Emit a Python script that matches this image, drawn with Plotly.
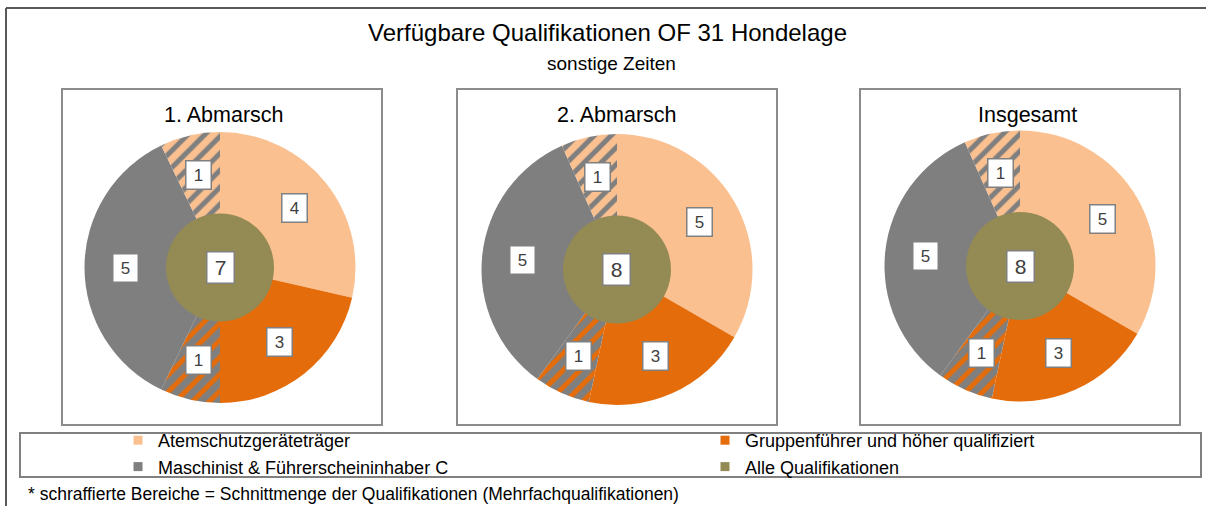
import math
import plotly.graph_objects as go

# ---------------- data ----------------
panels = ["1. Abmarsch", "2. Abmarsch", "Insgesamt"]
legend_names = ["Atemschutzgeräteträger", "Gruppenführer und höher qualifiziert",
                "Maschinist & Führerscheininhaber C", "Alle Qualifikationen"]
ring_labels = ["Atemschutzgeräteträger", "Gruppenführer und höher qualifiziert",
               "Gruppenführer + Maschinist", "Maschinist & Führerscheininhaber C",
               "Atemschutz + Maschinist"]
atemschutz = [4, 5, 5]
gruppenfuehrer = [3, 3, 3]
gruppen_maschinist = [1, 1, 1]
maschinist = [5, 5, 5]
atem_maschinist = [1, 1, 1]
alle = [7, 8, 8]

title = "Verfügbare Qualifikationen OF 31 Hondelage"
subtitle = "sonstige Zeiten"
footnote = "* schraffierte Bereiche = Schnittmenge der Qualifikationen (Mehrfachqualifikationen)"

# ---------------- style / layout ----------------
W, H = 1206, 506
C_LIGHT = "#FAC090"
C_ORANGE = "#E46C0A"
C_GRAY = "#7F7F7F"
C_OLIVE = "#948A54"
FONT = "Liberation Sans, Arial, sans-serif"

centers = [(220, 267.5), (617, 269.5), (1020, 266)]
R_OUT = 135.5
R_IN = 54
boxes = [(62, 382), (457, 777), (860, 1180)]
BOX_TOP, BOX_BOT = 89, 425
panel_title_x = [224, 617, 1027]

def dom(cx, cy, r):
    return dict(x=[(cx - r) / W, (cx + r) / W], y=[1 - (cy + r) / H, 1 - (cy - r) / H])

def ann(x, y, text, size, color="#000000", **kw):
    d = dict(x=x / W, y=1 - y / H, xref="paper", yref="paper", text=text,
             showarrow=False, xanchor="center", yanchor="middle",
             font=dict(size=size, color=color, family=FONT))
    d.update(kw)
    return d

fig = go.Figure()
annotations = []
shapes = []

for i, name in enumerate(panels):
    cx, cy = centers[i]
    vals = [atemschutz[i], gruppenfuehrer[i], gruppen_maschinist[i], maschinist[i], atem_maschinist[i]]
    fig.add_trace(go.Pie(
        labels=ring_labels, values=vals, sort=False, direction="clockwise", rotation=0,
        domain=dom(cx, cy, R_OUT), textinfo="none", textposition="none",
        hoverinfo="label+value", showlegend=False,
        marker=dict(colors=[C_LIGHT, C_ORANGE, C_GRAY, C_GRAY, C_LIGHT],
                    line=dict(width=0),
                    pattern=dict(shape=["", "", "/", "", "/"],
                                 bgcolor=[C_LIGHT, C_ORANGE, C_GRAY, C_GRAY, C_LIGHT],
                                 fgcolor=[C_LIGHT, C_ORANGE, C_ORANGE, C_GRAY, C_GRAY],
                                 fillmode="replace", size=12, solidity=0.42)),
    ))
    fig.add_trace(go.Pie(
        labels=[legend_names[3]], values=[alle[i]], sort=False,
        domain=dom(cx, cy, R_IN), textinfo="none", textposition="none",
        hoverinfo="label+value",
        showlegend=False, marker=dict(colors=[C_OLIVE], line=dict(width=0)),
    ))
    # slice value labels at mid-angle of each slice
    total = sum(vals)
    cum = 0
    r_lab = 0.5 * (R_OUT + R_IN)
    for v in vals:
        mid = (cum + v / 2) / total * 2 * math.pi
        cum += v
        x = cx + r_lab * math.sin(mid)
        y = cy - r_lab * math.cos(mid)
        annotations.append(ann(x, y, str(v), 17, "#404040",
                               bgcolor="white", bordercolor="#808080", borderwidth=1.5,
                               borderpad=3, width=18, height=21))
    annotations.append(ann(cx, cy, str(alle[i]), 21, "#404040",
                           bgcolor="white", bordercolor="#808080", borderwidth=1.5,
                           borderpad=3, width=20, height=24))
    # panel title
    annotations.append(ann(panel_title_x[i], 115, name, 21.5))
    x0, x1 = boxes[i]
    shapes.append(dict(type="rect", xref="paper", yref="paper",
                       x0=x0 / W, x1=x1 / W, y0=1 - BOX_BOT / H, y1=1 - BOX_TOP / H,
                       line=dict(color="#8C8C8C", width=2)))

# legend entries (two columns = two legends)
leg_colors = [C_LIGHT, C_ORANGE, C_GRAY, C_OLIVE]
leg_target = ["legend", "legend2", "legend", "legend2"]
for k in range(4):
    fig.add_trace(go.Scatter(x=[None], y=[None], mode="markers", name=legend_names[k],
                             legend=leg_target[k],
                             marker=dict(symbol="square", size=9, color=leg_colors[k]),
                             showlegend=True, hoverinfo="skip"))

# title / subtitle / footnote
annotations.append(ann(607, 33, title, 24))
annotations.append(ann(611, 64, subtitle, 19))
annotations.append(ann(26, 494, footnote, 17.5, xanchor="left"))

# legend box and outer frame
shapes.append(dict(type="rect", xref="paper", yref="paper",
                   x0=20 / W, x1=1201 / W, y0=1 - 477 / H, y1=1 - 433 / H,
                   line=dict(color="#808080", width=2)))
shapes.append(dict(type="line", xref="paper", yref="paper",
                   x0=6 / W, x1=1.01, y0=1 - 8 / H, y1=1 - 8 / H,
                   line=dict(color="#595959", width=2)))
shapes.append(dict(type="line", xref="paper", yref="paper",
                   x0=6 / W, x1=6 / W, y0=-0.02, y1=1 - 8 / H,
                   line=dict(color="#595959", width=2)))

legend_style = dict(orientation="v", xanchor="left", yanchor="top",
                    font=dict(size=18, color="#000000", family=FONT),
                    bgcolor="rgba(0,0,0,0)", borderwidth=0, itemclick=False,
                    tracegroupgap=0)
fig.update_layout(
    width=W, height=H, margin=dict(l=0, r=0, t=0, b=0),
    paper_bgcolor="white", plot_bgcolor="white",
    font=dict(family=FONT, color="#404040"),
    xaxis=dict(visible=False), yaxis=dict(visible=False),
    showlegend=True,
    legend=dict(x=118 / W, y=1 - 422 / H, **legend_style),
    legend2=dict(x=705 / W, y=1 - 422 / H, **legend_style),
    annotations=annotations, shapes=shapes,
)

fig.write_html("out.html", config={"displayModeBar": False},
               post_script="document.body.style.margin='0';")
